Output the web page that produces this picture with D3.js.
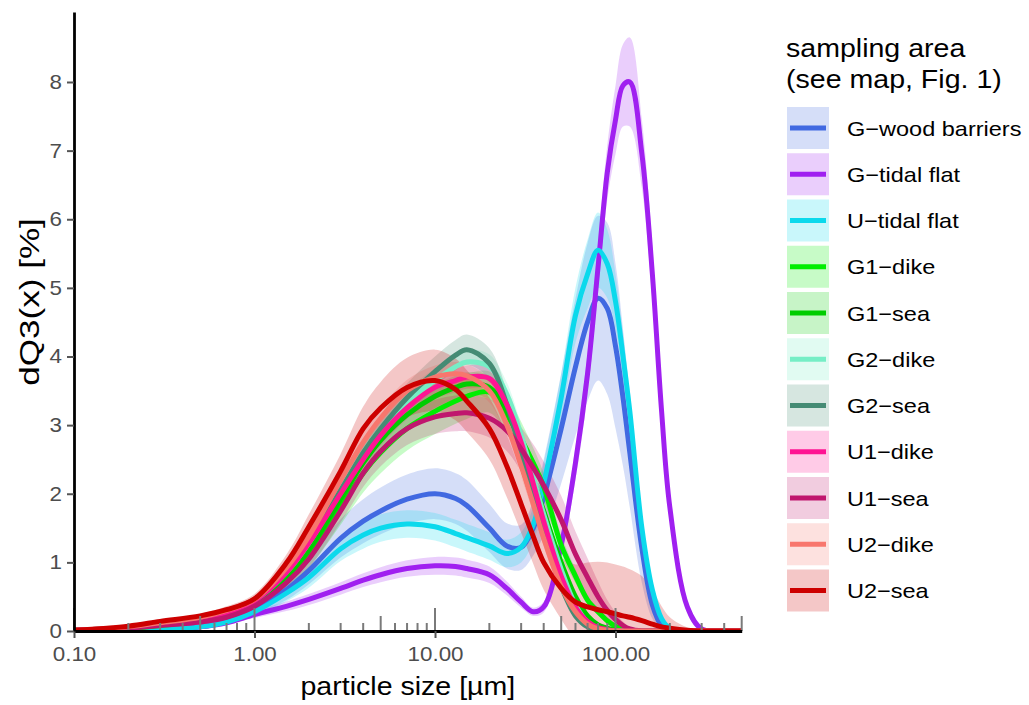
<!DOCTYPE html>
<html><head><meta charset="utf-8">
<script src="https://cdn.jsdelivr.net/npm/d3@7"></script>
<style>
body{margin:0;background:#fff}
svg{display:block}
text{font-family:"Liberation Sans",Arial,Helvetica,sans-serif}
</style>
</head><body>
<svg id="chart" width="1029" height="705"></svg>
<script>
// particle size classes [µm]
const sizes = [0.1,0.2,0.3,0.5,0.7,1,1.5,2,3,4,5,7,10,13,15,20,25,30,35,40,50,60,70,80,90,100,110,120,140,160,180,200,250,300,400,500];

const gWoodMean = [0,0.01,0.02,0.06,0.14,0.31,0.6,0.88,1.35,1.6,1.75,1.92,2.0,1.93,1.83,1.5,1.24,1.22,1.5,1.95,2.95,3.85,4.5,4.85,4.7,4.15,3.4,2.6,1.2,0.38,0.08,0.02,0,0,0,0];
const gWoodSd   = [0,0.005,0.01,0.02,0.04,0.08,0.15,0.2,0.28,0.32,0.34,0.36,0.37,0.37,0.37,0.35,0.33,0.33,0.4,0.55,0.8,1.0,1.15,1.2,1.25,1.2,1.0,0.8,0.5,0.2,0.06,0.02,0,0,0,0];

const gTidalMean = [0,0.01,0.02,0.06,0.12,0.24,0.36,0.46,0.62,0.74,0.82,0.91,0.95,0.94,0.91,0.82,0.62,0.42,0.28,0.35,1.25,2.45,3.75,5.3,6.68,7.45,7.95,8.0,6.95,5.2,3.2,1.8,0.35,0.03,0,0];
const gTidalSd   = [0,0,0.01,0.02,0.03,0.05,0.07,0.08,0.09,0.1,0.11,0.12,0.13,0.13,0.13,0.12,0.1,0.08,0.06,0.08,0.15,0.25,0.3,0.35,0.4,0.5,0.6,0.65,0.5,0.4,0.3,0.2,0.08,0.02,0,0];

const uTidalMean = [0,0.01,0.02,0.06,0.13,0.28,0.55,0.78,1.2,1.4,1.5,1.56,1.52,1.42,1.36,1.24,1.13,1.22,1.55,2.15,3.4,4.6,5.2,5.55,5.35,4.8,4.0,3.2,1.5,0.6,0.18,0.04,0,0,0,0];
const uTidalSd   = [0,0.005,0.01,0.02,0.04,0.07,0.12,0.15,0.18,0.2,0.2,0.2,0.2,0.2,0.2,0.2,0.2,0.22,0.25,0.3,0.35,0.4,0.5,0.55,0.5,0.4,0.35,0.3,0.2,0.1,0.05,0.02,0,0,0,0];

const g1DikeMean = [0.01,0.04,0.08,0.15,0.23,0.39,0.72,1.1,1.8,2.3,2.6,2.95,3.2,3.35,3.42,3.48,3.15,2.8,2.45,2.1,1.25,0.8,0.45,0.28,0.15,0.07,0.03,0.01,0,0,0,0,0,0,0,0];
const g1DikeSd   = [0,0.01,0.02,0.03,0.05,0.07,0.12,0.18,0.25,0.28,0.3,0.32,0.33,0.33,0.33,0.3,0.28,0.25,0.22,0.2,0.15,0.1,0.07,0.05,0.03,0.02,0.01,0,0,0,0,0,0,0,0,0];

const g1SeaMean = [0.01,0.04,0.09,0.16,0.25,0.41,0.78,1.18,1.92,2.45,2.78,3.15,3.42,3.55,3.6,3.55,3.2,2.7,2.2,1.75,1.0,0.5,0.22,0.09,0.04,0.01,0,0,0,0,0,0,0,0,0,0];
const g1SeaSd   = [0,0.01,0.02,0.03,0.04,0.05,0.08,0.1,0.12,0.14,0.15,0.16,0.17,0.17,0.17,0.17,0.16,0.15,0.13,0.11,0.08,0.05,0.03,0.01,0,0,0,0,0,0,0,0,0,0,0,0];

const g2DikeMean = [0.01,0.05,0.1,0.18,0.27,0.44,0.85,1.28,2.05,2.6,2.95,3.35,3.65,3.85,3.92,3.85,3.45,2.85,2.25,1.7,0.9,0.38,0.13,0.04,0.01,0,0,0,0,0,0,0,0,0,0,0];
const g2DikeSd   = [0,0.01,0.02,0.03,0.04,0.05,0.08,0.1,0.13,0.15,0.16,0.17,0.18,0.18,0.18,0.18,0.17,0.15,0.13,0.11,0.08,0.05,0.03,0.01,0,0,0,0,0,0,0,0,0,0,0,0];

const g2SeaMean = [0.01,0.05,0.1,0.18,0.27,0.44,0.85,1.3,2.05,2.6,2.95,3.4,3.78,4.02,4.1,3.9,3.3,2.6,2.0,1.45,0.65,0.22,0.06,0.01,0,0,0,0,0,0,0,0,0,0,0,0];
const g2SeaSd   = [0,0.01,0.02,0.03,0.05,0.06,0.1,0.13,0.17,0.19,0.2,0.21,0.22,0.22,0.22,0.22,0.2,0.18,0.15,0.12,0.08,0.04,0.02,0,0,0,0,0,0,0,0,0,0,0,0,0];

const u1DikeMean = [0.01,0.05,0.1,0.18,0.27,0.44,0.85,1.28,2.0,2.5,2.85,3.25,3.55,3.65,3.7,3.68,3.3,2.75,2.15,1.6,0.8,0.35,0.14,0.05,0.02,0,0,0,0,0,0,0,0,0,0,0];
const u1DikeSd   = [0,0.01,0.02,0.03,0.04,0.05,0.08,0.1,0.12,0.14,0.15,0.16,0.17,0.17,0.17,0.17,0.16,0.15,0.13,0.11,0.08,0.05,0.03,0.01,0,0,0,0,0,0,0,0,0,0,0,0];

const u1SeaMean = [0.01,0.04,0.08,0.13,0.2,0.36,0.7,1.05,1.75,2.3,2.62,2.95,3.12,3.17,3.18,3.1,2.92,2.65,2.38,2.12,1.62,1.12,0.78,0.5,0.3,0.17,0.08,0.03,0,0,0,0,0,0,0,0];
const u1SeaSd   = [0,0.01,0.02,0.03,0.05,0.07,0.1,0.13,0.17,0.2,0.22,0.24,0.25,0.26,0.27,0.28,0.3,0.32,0.34,0.35,0.35,0.33,0.28,0.22,0.15,0.1,0.06,0.03,0,0,0,0,0,0,0,0];

const u2DikeMean = [0.01,0.06,0.12,0.2,0.3,0.46,0.92,1.38,2.2,2.75,3.1,3.5,3.7,3.75,3.72,3.5,3.0,2.4,1.85,1.35,0.65,0.28,0.1,0.03,0.01,0,0,0,0,0,0,0,0,0,0,0];
const u2DikeSd   = [0,0.01,0.02,0.03,0.04,0.05,0.08,0.1,0.12,0.14,0.15,0.16,0.17,0.17,0.17,0.17,0.16,0.15,0.13,0.11,0.08,0.05,0.03,0.01,0,0,0,0,0,0,0,0,0,0,0,0];

const u2SeaMean = [0.01,0.07,0.14,0.22,0.31,0.47,0.99,1.52,2.33,2.95,3.25,3.55,3.65,3.52,3.35,2.95,2.4,1.85,1.38,1.0,0.62,0.42,0.35,0.31,0.28,0.25,0.22,0.2,0.15,0.1,0.06,0.04,0.01,0,0,0];
const u2SeaSd   = [0,0.01,0.02,0.03,0.05,0.07,0.12,0.18,0.25,0.32,0.38,0.43,0.45,0.45,0.45,0.45,0.45,0.42,0.4,0.4,0.45,0.55,0.65,0.7,0.72,0.72,0.72,0.7,0.65,0.5,0.3,0.16,0.04,0,0,0];

const seriesNames  = ["G\u2212wood barriers","G\u2212tidal flat","U\u2212tidal flat","G1\u2212dike","G1\u2212sea","G2\u2212dike","G2\u2212sea","U1\u2212dike","U1\u2212sea","U2\u2212dike","U2\u2212sea"];
const seriesColors = ["#4169E1","#A020F0","#0BD9EC","#00EE00","#00CD00","#76EEC6","#458B74","#FF1493","#C0166E","#F8766D","#CD0000"];
const seriesMeans  = [gWoodMean,gTidalMean,uTidalMean,g1DikeMean,g1SeaMean,g2DikeMean,g2SeaMean,u1DikeMean,u1SeaMean,u2DikeMean,u2SeaMean];
const seriesSds    = [gWoodSd,gTidalSd,uTidalSd,g1DikeSd,g1SeaSd,g2DikeSd,g2SeaSd,u1DikeSd,u1SeaSd,u2DikeSd,u2SeaSd];

const yTickValues = [0,1,2,3,4,5,6,7,8];
const xTickValues = [0.1,1,10,100];
const xTickLabels = ["0.10","1.00","10.00","100.00"];
const legendTitle = ["sampling area","(see map, Fig. 1)"];
const xTitle = "particle size [\u00B5m]";
const yTitle = "dQ3(x) [%]";

const STRETCH = 1.12;
const svg = d3.select("#chart");
const L = 74, R = 741.7, T = 12, B = 631;
const x = d3.scaleLog().domain([0.1, 500]).range([L, R]);
const y = d3.scaleLinear().domain([0, 9.02]).range([B, T]);

const series = seriesNames.map((n, i) => ({
  name: n, color: seriesColors[i],
  pts: sizes.map((s, j) => ({s, m: seriesMeans[i][j], sd: seriesSds[i][j]}))
}));

svg.append("defs").append("clipPath").attr("id","panel")
  .append("rect").attr("x", L).attr("y", T).attr("width", R - L).attr("height", B - T);

const plot = svg.append("g").attr("clip-path","url(#panel)");
const curve = d3.curveCatmullRom.alpha(0.5);
const area = d3.area().x(d => x(d.s)).y0(d => y(d.m - d.sd)).y1(d => y(d.m + d.sd)).curve(curve);
const line = d3.line().x(d => x(d.s)).y(d => y(d.m)).curve(curve);

plot.selectAll("path.rib").data(series).join("path").attr("class","rib")
  .attr("d", d => area(d.pts)).attr("fill", d => d.color).attr("fill-opacity", 0.22).attr("stroke","none");
plot.selectAll("path.ln").data(series).join("path").attr("class","ln")
  .attr("d", d => line(d.pts)).attr("fill","none").attr("stroke", d => d.color)
  .attr("stroke-width", 5).attr("stroke-linejoin","round").attr("stroke-linecap","butt");

// log ticks along bottom of panel
const logTicks = [];
[0.1, 1, 10, 100].forEach(dec => { for (let k = 1; k <= 9; k++) { const v = k * dec; if (v >= 0.1 && v <= 500.001) logTicks.push({v, k}); } });
svg.append("g").selectAll("line").data(logTicks).join("line")
  .attr("x1", d => x(d.v)).attr("x2", d => x(d.v))
  .attr("y1", B).attr("y2", d => B - (d.k === 1 ? 23 : d.k === 5 ? 15 : 8))
  .attr("stroke","#7a7a7a").attr("stroke-width", 2);

// axes
const xAxis = svg.append("g").attr("transform", `translate(0,${B})`)
  .call(d3.axisBottom(x).tickValues(xTickValues).tickFormat((d, i) => xTickLabels[i]).tickSize(7).tickSizeOuter(0).tickPadding(9));
const yAxis = svg.append("g").attr("transform", `translate(${L},0)`)
  .call(d3.axisLeft(y).tickValues(yTickValues).tickFormat(d3.format("d")).tickSize(7).tickSizeOuter(0).tickPadding(5));
[xAxis, yAxis].forEach(g => {
  g.select(".domain").attr("stroke","#000").attr("stroke-width", 2.8);
  g.selectAll(".tick line").attr("stroke","#555").attr("stroke-width", 2);
  g.selectAll(".tick text").attr("fill","#4d4d4d").attr("font-size", 20)
    .attr("font-family", '"Liberation Sans",Arial,sans-serif');
});
xAxis.selectAll(".tick text").attr("transform", `scale(${STRETCH},1)`);
yAxis.selectAll(".tick text").attr("transform", `scale(${STRETCH},1)`).attr("x", -12 / STRETCH);

// axis titles
svg.append("text").attr("transform", `translate(${(L + R) / 2},695) scale(${STRETCH},1)`)
  .attr("text-anchor","middle").attr("font-size", 25.5).attr("fill","#000").text(xTitle);
svg.append("text").attr("transform", `translate(39,302) rotate(-90) scale(1.3,1)`)
  .attr("text-anchor","middle").attr("font-size", 27).attr("fill","#000").text(yTitle);

// legend
const lg = svg.append("g");
legendTitle.forEach((t, i) => {
  lg.append("text").attr("transform", `translate(786,${57 + i * 31}) scale(${STRETCH},1)`)
    .attr("font-size", 25.5).attr("fill","#000").text(t);
});
const keyTop = 107, keyStep = 46.25, keySize = 42;
const keys = lg.selectAll("g.key").data(series).join("g").attr("class","key")
  .attr("transform", (d, i) => `translate(787,${keyTop + i * keyStep})`);
keys.append("rect").attr("width", keySize).attr("height", keySize)
  .attr("fill", d => d.color).attr("fill-opacity", 0.22);
keys.append("line").attr("x1", 3).attr("x2", 39).attr("y1", keySize / 2).attr("y2", keySize / 2)
  .attr("stroke", d => d.color).attr("stroke-width", 5);
keys.append("text").attr("transform", `translate(60,${keySize / 2 + 7.5}) scale(${STRETCH},1)`)
  .attr("font-size", 21).attr("fill","#000").text(d => d.name);
</script>
</body></html>
